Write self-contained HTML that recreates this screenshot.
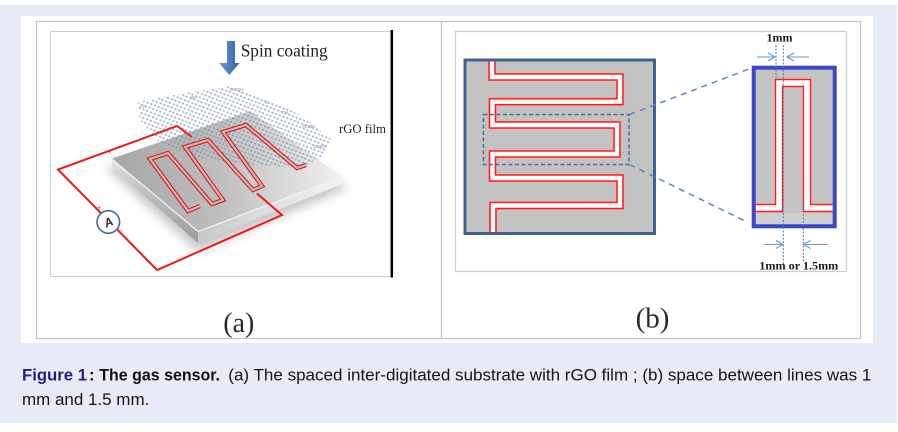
<!DOCTYPE html>
<html>
<head>
<meta charset="utf-8">
<style>
html,body{margin:0;padding:0;background:#fff;width:898px;height:432px;overflow:hidden;}
svg{display:block;}
</style>
</head>
<body>
<svg width="898" height="432" viewBox="0 0 898 432" xmlns="http://www.w3.org/2000/svg">
<defs>
  <linearGradient id="topface" x1="112" y1="160" x2="342" y2="150" gradientUnits="userSpaceOnUse">
    <stop offset="0" stop-color="#a6a6a6"/>
    <stop offset="0.45" stop-color="#bdbdbd"/>
    <stop offset="0.8" stop-color="#dedede"/>
    <stop offset="1" stop-color="#f2f2f2"/>
  </linearGradient>
  <linearGradient id="sideL" x1="0" y1="0" x2="0" y2="1">
    <stop offset="0" stop-color="#e8e8e8"/>
    <stop offset="0.35" stop-color="#c2c2c2"/>
    <stop offset="1" stop-color="#9c9c9c"/>
  </linearGradient>
  <linearGradient id="sideR" x1="198" y1="0" x2="342" y2="0" gradientUnits="userSpaceOnUse">
    <stop offset="0" stop-color="#c8c8c8"/>
    <stop offset="1" stop-color="#f4f4f4"/>
  </linearGradient>
  <linearGradient id="arrowG" x1="0" y1="0" x2="1" y2="0">
    <stop offset="0" stop-color="#6a9ad6"/>
    <stop offset="1" stop-color="#3563a3"/>
  </linearGradient>
  <pattern id="lat" width="6" height="5.2" patternUnits="userSpaceOnUse" patternTransform="rotate(-20)">
    <path d="M1.5 1.3 L4.5 3.9 M4.5 3.9 L4.5 6.5" stroke="#a9bbcf" stroke-width="0.5"/>
    <circle cx="1.5" cy="1.3" r="1" fill="#6f88a6"/>
    <circle cx="4.5" cy="3.9" r="1" fill="#6f88a6"/>
  </pattern>
  <filter id="blur4" x="-20%" y="-20%" width="140%" height="140%">
    <feGaussianBlur stdDeviation="5"/>
  </filter>
  <filter id="blur05">
    <feGaussianBlur stdDeviation="0.35"/>
  </filter>
</defs>

<!-- backgrounds -->
<rect x="0" y="0" width="898" height="432" fill="#ffffff"/>
<rect x="0" y="5" width="897" height="418" fill="#e7ebf6"/>
<rect x="21" y="16" width="852" height="327" fill="#ffffff"/>

<!-- table -->
<rect x="36.5" y="21.5" width="824" height="317" fill="none" stroke="#c2c2c2" stroke-width="1.2"/>
<line x1="441.5" y1="21.5" x2="441.5" y2="338.5" stroke="#c2c2c2" stroke-width="1.2"/>

<!-- ============ Panel (a) ============ -->
<rect x="50.5" y="31.5" width="341" height="245" fill="#ffffff" stroke="#cdcdcd" stroke-width="1"/>
<line x1="391.8" y1="30" x2="391.8" y2="277.5" stroke="#000" stroke-width="2.5"/>

<!-- shadow of slab -->
<polygon points="106,168 198,252 348,188 250,124" fill="#000" opacity="0.22" filter="url(#blur4)"/>

<!-- slab -->
<polygon points="112,158.5 198,231 198,243 112,167.5" fill="url(#sideL)"/>
<polygon points="198,231 342,176.5 342,184 198,243" fill="url(#sideR)"/>
<polygon points="112,158.5 250,111 342,176.5 198,231" fill="url(#topface)"/>
<polyline points="112,159 198,231.5 342,177" fill="none" stroke="#f4f4f4" stroke-width="1.2"/>

<!-- rGO lattice -->
<polygon points="138,102 185,93 232,86 265,98 300,115 332,140 322,157 300,168 255,165 200,158 160,143 140,120" fill="url(#lat)" opacity="0.7"/>
<g font-family="Liberation Sans, sans-serif" font-size="4.5" fill="#7f93aa">
  <text x="230" y="91">COOH</text>
  <text x="190" y="99">OH</text>
  <text x="140" y="108">CH</text>
  <text x="265" y="104">O</text>
  <text x="282" y="114">CH</text>
  <text x="302" y="128">COOH</text>
  <text x="313" y="148">COOH</text>
</g>

<!-- red meander on slab (double line) -->
<polyline points="200,206 188,211 150,159 168,153 212,204 223,200 185,147 208,140 253,190 262,186 223,132 246,125 297,168 306,165" fill="none" stroke="#e81616" stroke-width="4.4" stroke-linejoin="miter"/>
<polyline points="200,206 188,211 150,159 168,153 212,204 223,200 185,147 208,140 253,190 262,186 223,132 246,125 297,168 306,165" fill="none" stroke="#bdbdbd" stroke-width="2.2" stroke-linejoin="miter"/>

<!-- circuit wire -->
<polyline points="192,137 177,126 58,169.5 157,270 282,215 257,193.5" fill="none" stroke="#ee1a1a" stroke-width="2" stroke-linejoin="miter"/>
<path d="M108,150.5 l2,2" stroke="#ee1a1a" stroke-width="1.5"/>
<!-- ammeter -->
<circle cx="108.3" cy="222" r="11.3" fill="#ffffff" stroke="#4a6a9a" stroke-width="1.6"/>
<text x="108.3" y="226.5" font-family="Liberation Sans, sans-serif" font-size="12" font-weight="bold" font-style="italic" fill="#2b2b3a" text-anchor="middle" transform="rotate(-25 108.3 222)">A</text>
<text x="97" y="210" font-family="Liberation Sans, sans-serif" font-size="7" fill="#e01a1a">+</text>
<text x="120" y="233" font-family="Liberation Sans, sans-serif" font-size="7" fill="#e01a1a">-</text>

<!-- spin coating arrow -->
<path d="M227,41 H235 V63 H239.5 L229.3,75 L219,63 H227 Z" fill="url(#arrowG)"/>
<text x="240.7" y="56.5" font-family="Liberation Serif, serif" font-size="17.4" fill="#222" textLength="87" lengthAdjust="spacingAndGlyphs">Spin coating</text>
<text x="339" y="133" font-family="Liberation Serif, serif" font-size="12.7" fill="#222" textLength="47" lengthAdjust="spacingAndGlyphs">rGO film</text>

<!-- ============ Panel (b) ============ -->
<rect x="455.5" y="31.5" width="391" height="240" fill="#ffffff" stroke="#cdcdcd" stroke-width="1.2"/>

<!-- left electrode square -->
<rect x="465" y="60" width="189.5" height="173.5" fill="#c3c3c3" stroke="#3f6290" stroke-width="3"/>
<g filter="url(#blur05)">
<path d="M492,61.5 V77 H620 V101.7 H492.5 V125 H617 V154 H492.5 V178 H620 V205.5 H493 V232" fill="none" stroke="#ff9c9c" stroke-width="8.6" stroke-linejoin="miter"/>
<path d="M492,61.5 V77 H620 V101.7 H492.5 V125 H617 V154 H492.5 V178 H620 V205.5 H493 V232" fill="none" stroke="#ff1e1e" stroke-width="7.4" stroke-linejoin="miter"/>
<path d="M492,61.5 V77 H620 V101.7 H492.5 V125 H617 V154 H492.5 V178 H620 V205.5 H493 V232" fill="none" stroke="#ffffff" stroke-width="4.4" stroke-linejoin="miter"/>
</g>
<!-- dashed selection rect -->
<rect x="483.5" y="114.5" width="145.5" height="50" fill="none" stroke="#4b6c9c" stroke-width="1.5" stroke-dasharray="4 2.5"/>
<!-- dashed connectors -->
<line x1="629.5" y1="114.5" x2="751.5" y2="68" stroke="#5a88c8" stroke-width="1.5" stroke-dasharray="6 5"/>
<line x1="629.5" y1="164.5" x2="745" y2="221" stroke="#5a88c8" stroke-width="1.5" stroke-dasharray="6 5"/>

<!-- zoomed box -->
<rect x="753.7" y="67.7" width="81" height="158.6" fill="#c3c3c3" stroke="#3d45c8" stroke-width="4"/>
<rect x="756" y="213" width="76.5" height="11" fill="#cfcfcf"/>
<g filter="url(#blur05)">
<path d="M756,208 H779 V83 H807 V208 H832.5" fill="none" stroke="#ff9c9c" stroke-width="9.2" stroke-linejoin="miter"/>
<path d="M756,208 H779 V83 H807 V208 H832.5" fill="none" stroke="#ff1e1e" stroke-width="8.3" stroke-linejoin="miter"/>
<path d="M756,208 H779 V83 H807 V208 H832.5" fill="none" stroke="#ffffff" stroke-width="5.6" stroke-linejoin="miter"/>
</g>

<!-- dimension lines -->
<g stroke="#4a7ac0" stroke-width="1" stroke-dasharray="2 1.5" fill="none">
  <line x1="776" y1="45" x2="776" y2="80"/>
  <line x1="783.3" y1="45" x2="783.3" y2="265"/>
  <line x1="803.3" y1="200" x2="803.3" y2="262"/>
</g>
<g stroke="#6a9ad8" stroke-width="1.1" fill="none">
  <path d="M757,57 H775 M768,53 L775,57 L768,61"/>
  <path d="M809,57 H787 M794,53 L787,57 L794,61"/>
  <path d="M764,244.5 H783 M776,240.5 L783,244.5 L776,248.5"/>
  <path d="M828,244.5 H803.5 M810.5,240.5 L803.5,244.5 L810.5,248.5"/>
</g>
<text x="779.5" y="41.5" font-family="Liberation Serif, serif" font-size="12" font-weight="bold" fill="#1a1a1a" text-anchor="middle">1mm</text>
<text x="759.3" y="269.5" font-family="Liberation Serif, serif" font-size="12" font-weight="bold" fill="#1a1a1a" textLength="79" lengthAdjust="spacingAndGlyphs">1mm or 1.5mm</text>

<!-- (a) (b) labels -->
<text x="238.8" y="332" font-family="Liberation Serif, serif" font-size="28" fill="#2a2a2a" text-anchor="middle">(a)</text>
<text x="652.5" y="327.5" font-family="Liberation Serif, serif" font-size="29" fill="#2a2a2a" text-anchor="middle">(b)</text>

<!-- caption -->
<g font-family="Liberation Sans, sans-serif" font-size="17">
  <text x="22" y="380.5" font-weight="bold" fill="#231d85" textLength="65" lengthAdjust="spacingAndGlyphs">Figure 1</text>
  <text x="89" y="380.5" font-weight="bold" fill="#111">:</text>
  <text x="99.3" y="380.5" font-weight="bold" fill="#111" textLength="120.7" lengthAdjust="spacingAndGlyphs">The gas sensor.</text>
  <text x="228.3" y="380.5" fill="#151515" textLength="643" lengthAdjust="spacingAndGlyphs">(a) The spaced inter-digitated substrate with rGO film ; (b) space between lines was 1</text>
  <text x="22" y="405" fill="#151515" textLength="127.3" lengthAdjust="spacingAndGlyphs">mm and 1.5 mm.</text>
</g>
</svg>
</body>
</html>
